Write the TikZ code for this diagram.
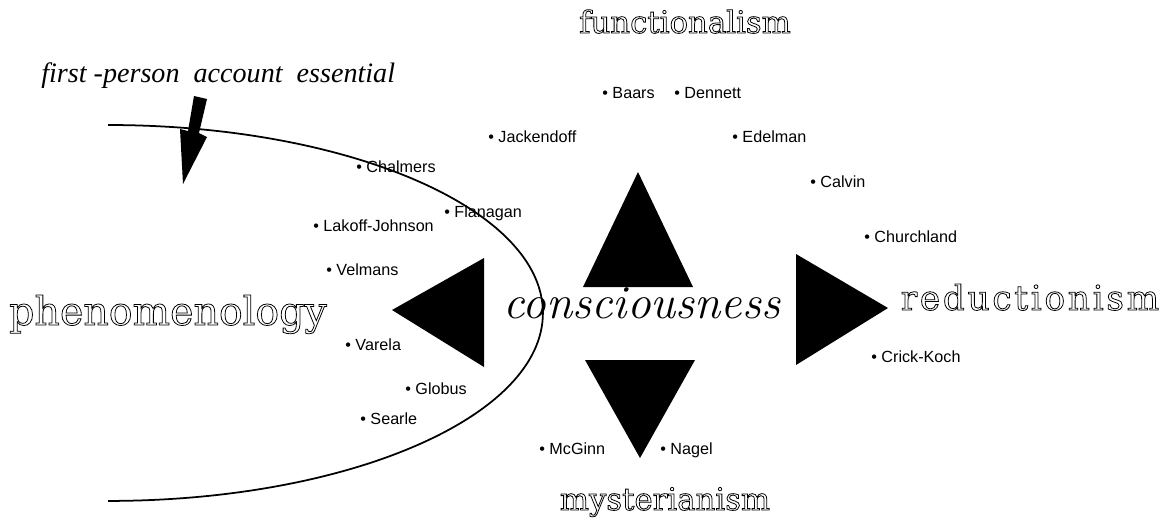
\documentclass[tikz,border=0pt]{standalone}
\usepackage{fontspec}

\newfontfamily\namefont{Liberation Sans}
\newfontfamily\notefont{Liberation Serif}
\newfontfamily\schoolfont{DejaVu Serif}
\newfontfamily\wideschoolfont[LetterSpace=8]{DejaVu Serif}
% hollow letters: stroke the glyph outlines only
\newcommand{\hollow}[1]{\special{pdf:literal direct 1 Tr 0.45 w}#1\special{pdf:literal direct 0 Tr}}

\tikzset{
  thinker/.style={anchor=base west, inner sep=0pt, font=\namefont\fontsize{9.2}{11}\selectfont},
  school/.style={anchor=base, inner sep=0pt},
  wedge/.style={fill=black}
}

\begin{document}
\begin{tikzpicture}[x=0.02cm, y=-0.02cm]
    \useasboundingbox (0,0) rectangle (1173,529);

    % the four schools
    \node[school, font=\schoolfont\fontsize{17.5}{20}\selectfont] (func) at (685,33) {\hollow{functionalism}};
    \node[school, font=\schoolfont\fontsize{22.5}{26}\selectfont] (phen) at (168,325) {\hollow{phenomenology}};
    \node[school, font=\wideschoolfont\fontsize{19.5}{22}\selectfont] (redu) at (1030,310) {\hollow{reductionism}};
    \node[school, font=\schoolfont\fontsize{17.5}{20}\selectfont] (myst) at (665,510) {\hollow{mysterianism}};

    % centre
    \node[school, font=\fontsize{27}{30}\selectfont\itshape] (cons) at (642,318) {consciousness};

    % wedges
    \fill[wedge] (583,287) -- (638,172) -- (693,287) -- cycle;
    \fill[wedge] (484,258) -- (392,310) -- (484,367) -- cycle;
    \fill[wedge] (796,254) -- (888,308) -- (796,365) -- cycle;
    \fill[wedge] (585,360) -- (640,458) -- (695,360) -- cycle;

    % first-person boundary
    \node[anchor=base west, inner sep=0pt, font=\notefont\fontsize{16}{18}\selectfont\itshape] (note) at (41,82) {first -person~~account~~essential};
    \coordinate (top) at (108,125);
    \draw[line width=1pt] (top) arc[start angle=90, end angle=-90, x radius=8.7cm, y radius=3.76cm];
    \fill (194,96) -- (207,99) -- (199,133) -- (207,137) -- (183,184) -- (180,129) -- (188,131) -- cycle;

    % names
    \node[thinker] (baars) at (602,98) {\textbullet\ Baars};
    \node[thinker] (dennett) at (674,98) {\textbullet\ Dennett};
    \node[thinker] (jackendoff) at (488,142) {\textbullet\ Jackendoff};
    \node[thinker] (edelman) at (732,142) {\textbullet\ Edelman};
    \node[thinker] (chalmers) at (356,172) {\textbullet\ Chalmers};
    \node[thinker] (calvin) at (810,187) {\textbullet\ Calvin};
    \node[thinker] (flanagan) at (444,217) {\textbullet\ Flanagan};
    \node[thinker] (lakoff) at (313,231) {\textbullet\ Lakoff-Johnson};
    \node[thinker] (churchland) at (864,242) {\textbullet\ Churchland};
    \node[thinker] (velmans) at (326,275) {\textbullet\ Velmans};
    \node[thinker] (varela) at (345,350) {\textbullet\ Varela};
    \node[thinker] (crick) at (871,362) {\textbullet\ Crick-Koch};
    \node[thinker] (globus) at (405,394) {\textbullet\ Globus};
    \node[thinker] (searle) at (360,424) {\textbullet\ Searle};
    \node[thinker] (mcginn) at (539,454) {\textbullet\ McGinn};
    \node[thinker] (nagel) at (660,454) {\textbullet\ Nagel};
\end{tikzpicture}
\end{document}
